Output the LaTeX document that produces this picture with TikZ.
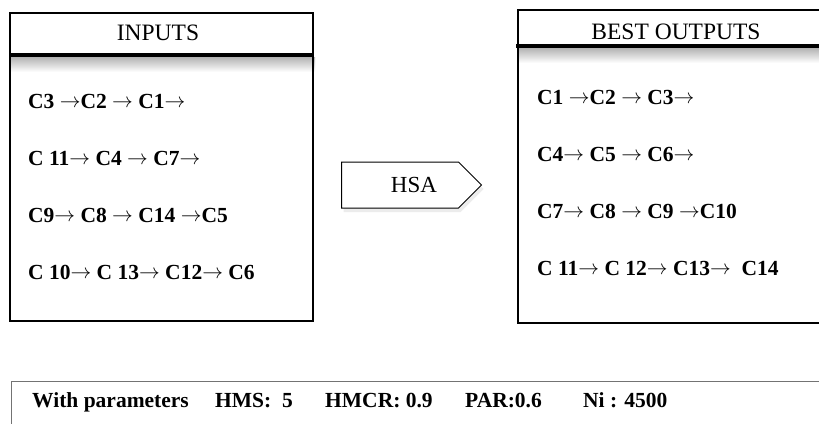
\documentclass[tikz,border=0pt]{standalone}
\usepackage{fontspec}
\setmainfont{Liberation Serif}
\usetikzlibrary{shapes.symbols,shadows}
\tikzset{
  title/.style = {font=\fontsize{23.5}{28}\selectfont, anchor=base,
                  inner sep=0pt},
  row/.style = {font=\fontsize{21.5}{26}\selectfont\bfseries,
                anchor=base west, inner sep=0pt},
  param/.style = {font=\fontsize{21.5}{26}\selectfont\bfseries,
                  anchor=base west, inner sep=0pt},
  header/.style = {line width=3.5pt},
  frame/.style = {line width=1.2pt}
}

\begin{document}
\begin{tikzpicture}[x=1pt, y=-1pt]
	\def \sep{57}
	\def \inx{28}
	\def \outx{537}
	\def \ra{\raisebox{1pt}{$\rightarrow$}}
	
	\clip (0,0) rectangle (819,423);
	\fill[white] (0,0) rectangle (819,423);
	
	% Inputs box
	\shade[top color=black!30, bottom color=white] (10,57) rectangle (315,72);
	\draw[frame] (10,13) rectangle (313,321);
	\draw[header] (10,55) -- (313,55);
	\node[title] (inputs) at (158,40) {INPUTS};
	
	\node[row] (in1) at (\inx,108)        {C3 \ra C2 \ra\ C1\ra};
	\node[row] (in2) at (\inx,108+\sep)   {C 11\ra\ C4 \ra\ C7\ra};
	\node[row] (in3) at (\inx,108+2*\sep) {C9\ra\ C8 \ra\ C14 \ra C5};
	\node[row] (in4) at (\inx,108+3*\sep) {C 10\ra\ C 13\ra\ C12\ra\ C6};
	
	% Outputs box
	\shade[top color=black!30, bottom color=white] (518,48) rectangle (830,63);
	\draw[frame] (518,10) rectangle (840,323);
	\draw[header] (516,46) -- (840,46);
	\node[title] (outputs) at (676,39) {BEST OUTPUTS};
	
	\node[row] (out1) at (\outx,104)        {C1 \ra C2 \ra\ C3\ra};
	\node[row] (out2) at (\outx,104+\sep)   {C4\ra\ C5 \ra\ C6\ra};
	\node[row] (out3) at (\outx,104+2*\sep) {C7\ra\ C8 \ra\ C9 \ra C10};
	\node[row] (out4) at (\outx,104+3*\sep) {C 11\ra\ C 12\ra\ C13\ra\ \ C14};
	
	% HSA
	\node[signal, signal to=east, draw, line width=1pt, fill=white,
	      drop shadow={opacity=0.15, shadow xshift=2pt, shadow yshift=-4pt},
	      minimum width=140pt, minimum height=46pt, inner sep=0pt,
	      anchor=west, font=\fontsize{23}{28}\selectfont] (hsa)
	      at (341,185) {\hspace*{28pt}HSA};
	
	% Parameters
	\draw[black!55, line width=1pt] (11,440) -- (11,381) -- (840,381);
	\node[param] (with) at (32,407)  {With parameters};
	\node[param] (hms)  at (215,407) {HMS:\ \ 5};
	\node[param] (hmcr) at (325,407) {HMCR: 0.9};
	\node[param] (par)  at (465,407) {PAR:0.6};
	\node[param] (ni)   at (583,407) {Ni : 4500};
	
\end{tikzpicture}
\end{document}
